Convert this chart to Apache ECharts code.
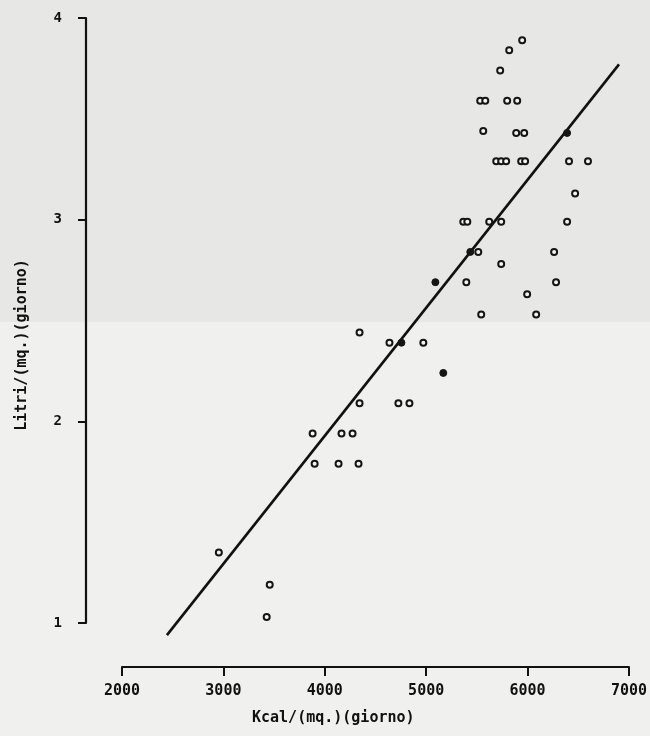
<!DOCTYPE html>
<html>
<head>
<meta charset="utf-8">
<script src="https://cdn.jsdelivr.net/npm/echarts@6/dist/echarts.min.js"></script>
<style>html,body{margin:0;padding:0;background:#f0f0ee;}#c{width:650px;height:736px;}</style>
</head>
<body>
<div id="c"></div>
<script>
// X tick labels and Y tick labels
const xTicks = [2000, 3000, 4000, 5000, 6000, 7000];
const yTicks = [1, 2, 3, 4];

// Observations (open circles): [Kcal/(mq.)(giorno), Litri/(mq.)(giorno)]
const openPoints = [
  [5947, 3.89], [5819, 3.84], [5730, 3.74],
  [5533, 3.59], [5583, 3.59], [5799, 3.59], [5898, 3.59],
  [5563, 3.44], [5888, 3.43], [5967, 3.43],
  [5691, 3.29], [5740, 3.29], [5789, 3.29], [5937, 3.29], [5976, 3.29], [6409, 3.29], [6596, 3.29],
  [6469, 3.13],
  [5366, 2.99], [5406, 2.99], [5622, 2.99], [5740, 2.99], [6390, 2.99],
  [5514, 2.84], [6262, 2.84], [5740, 2.78],
  [5396, 2.69], [6281, 2.69], [5996, 2.63],
  [5543, 2.53], [6085, 2.53],
  [4343, 2.44], [4638, 2.39], [4972, 2.39],
  [4343, 2.09], [4726, 2.09], [4835, 2.09],
  [3880, 1.94], [4165, 1.94], [4274, 1.94],
  [3900, 1.79], [4136, 1.79], [4333, 1.79],
  [2955, 1.35], [3457, 1.19], [3427, 1.03]
];
// Observations drawn as solid dots
const filledPoints = [
  [6390, 3.43], [5435, 2.84], [5091, 2.69], [4756, 2.39], [5169, 2.24]
];
// Regression line end points
const fitLine = [[2443, 0.94], [6902, 3.77]];

const mono = '"DejaVu Sans Mono", "Liberation Mono", monospace';
const chart = echarts.init(document.getElementById('c'));
chart.setOption({
  backgroundColor: '#f0f0ee',
  animation: false,
  graphic: [
    { type: 'rect', z: -10, shape: { x: 0, y: 0, width: 650, height: 322 }, style: { fill: '#e7e7e5' } },
    { type: 'text', left: 252, top: 711, style: { text: 'Kcal/(mq.)(giorno)', font: 'bold 15px ' + mono, fill: '#111' } },
    { type: 'text', x: 22, y: 345, rotation: Math.PI / 2, style: { text: 'Litri/(mq.)(giorno)', font: 'bold 15px ' + mono, fill: '#111', align: 'center', verticalAlign: 'middle' } }
  ],
  grid: { left: 122, right: 20, top: 18, bottom: 113 },
  xAxis: {
    type: 'value', min: xTicks[0], max: xTicks[xTicks.length - 1], interval: 1000,
    offset: 44,
    axisLine: { show: true, onZero: false, lineStyle: { color: '#111', width: 2.2 } },
    axisTick: { show: true, inside: false, length: 9, lineStyle: { color: '#111', width: 2 } },
    axisLabel: { margin: 17, color: '#111', fontFamily: mono, fontWeight: 'bold', fontSize: 15, formatter: v => String(v) },
    splitLine: { show: false }
  },
  yAxis: {
    type: 'value', min: yTicks[0], max: yTicks[yTicks.length - 1], interval: 1,
    offset: 36,
    axisLine: { show: true, onZero: false, lineStyle: { color: '#111', width: 2.2 } },
    axisTick: { show: true, inside: false, length: 8, lineStyle: { color: '#111', width: 2 } },
    axisLabel: { margin: 24, color: '#111', fontFamily: mono, fontWeight: 'bold', fontSize: 14, formatter: v => String(v) },
    splitLine: { show: false }
  },
  series: [
    {
      type: 'line', data: fitLine, symbol: 'none', clip: false,
      lineStyle: { color: '#111', width: 2.6 }, z: 3
    },
    {
      type: 'scatter', data: openPoints, symbol: 'circle', symbolSize: 6,
      itemStyle: { color: '#f4f4f2', borderColor: '#151515', borderWidth: 2, opacity: 1 }, z: 4
    },
    {
      type: 'scatter', data: filledPoints, symbol: 'circle', symbolSize: 7,
      itemStyle: { color: '#151515', borderColor: '#151515', borderWidth: 1, opacity: 1 }, z: 4
    }
  ]
});
</script>
</body>
</html>
